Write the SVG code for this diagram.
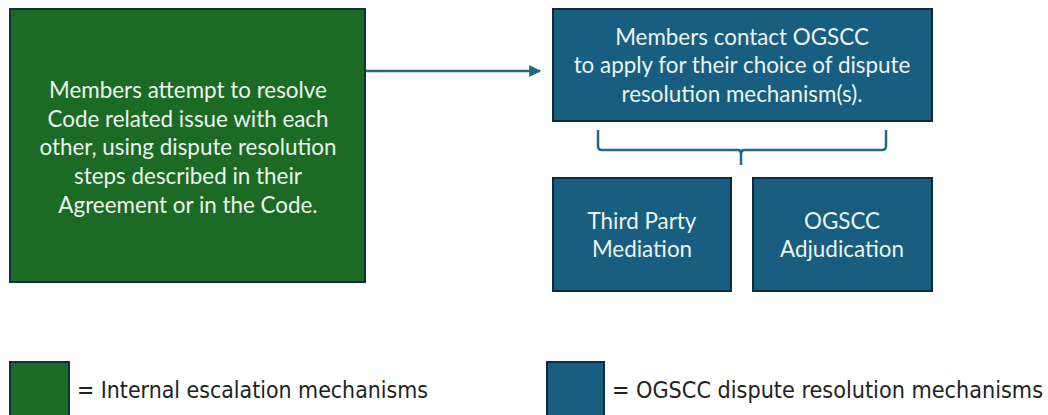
<svg xmlns="http://www.w3.org/2000/svg" width="1048" height="415" viewBox="0 0 1048 415">
<defs>
<style>
.g{fill:#1b6b25;stroke:#12313f;stroke-width:2}
.b{fill:#175e80;stroke:#0f2b3a;stroke-width:2}
.t{font-family:Lato,"Open Sans","Liberation Sans",sans-serif;font-size:22.4px;fill:#eef3ee;text-anchor:middle}
.l{font-family:"DejaVu Sans Condensed","DejaVu Sans",sans-serif;font-stretch:condensed;font-size:23px;fill:#222}
.c{fill:none;stroke:#1f6688;stroke-width:2.5}
</style>
<marker id="ah" viewBox="0 0 10 10" refX="9" refY="5" markerWidth="13" markerHeight="12" markerUnits="userSpaceOnUse" orient="auto">
<path d="M0,0 L10,5 L0,10 z" fill="#1f6688"/>
</marker>
</defs>
<rect width="1048" height="415" fill="#fff"/>
<g id="internal">
<rect class="g" x="10" y="9" width="355" height="273"/>
<text class="t"><tspan x="188" y="98">Members attempt to resolve</tspan><tspan x="188" y="127">Code related issue with each</tspan><tspan x="188" y="155">other, using dispute resolution</tspan><tspan x="188" y="184">steps described in their</tspan><tspan x="188" y="213">Agreement or in the Code.</tspan></text>
</g>
<g id="contact">
<rect class="b" x="553" y="9" width="379" height="112"/>
<text class="t"><tspan x="742" y="45">Members contact OGSCC</tspan><tspan x="742" y="73">to apply for their choice of dispute</tspan><tspan x="742" y="102">resolution mechanism(s).</tspan></text>
</g>
<g id="mediation">
<rect class="b" x="553" y="178" width="178" height="113"/>
<text class="t"><tspan x="642" y="229">Third Party</tspan><tspan x="642" y="257">Mediation</tspan></text>
</g>
<g id="adjudication">
<rect class="b" x="753" y="178" width="179" height="113"/>
<text class="t"><tspan x="842" y="229">OGSCC</tspan><tspan x="842" y="257">Adjudication</tspan></text>
</g>
<g id="connectors">
<line class="c" x1="366" y1="71" x2="540" y2="71" marker-end="url(#ah)"/>
<path class="c" d="M598,130 V146 Q598,150 602,150 H738 Q741,150 741,154 V165 M741,154 Q741,150 744,150 H882 Q886,150 886,146 V130"/>
</g>
<g id="legend-internal">
<rect class="g" x="10" y="362" width="59" height="56"/>
<text class="l" x="77" y="398" textLength="351" lengthAdjust="spacingAndGlyphs">= Internal escalation mechanisms</text>
</g>
<g id="legend-ogscc">
<rect class="b" x="547" y="362" width="57" height="56"/>
<text class="l" x="612" y="398" textLength="431" lengthAdjust="spacingAndGlyphs">= OGSCC dispute resolution mechanisms</text>
</g>
</svg>
